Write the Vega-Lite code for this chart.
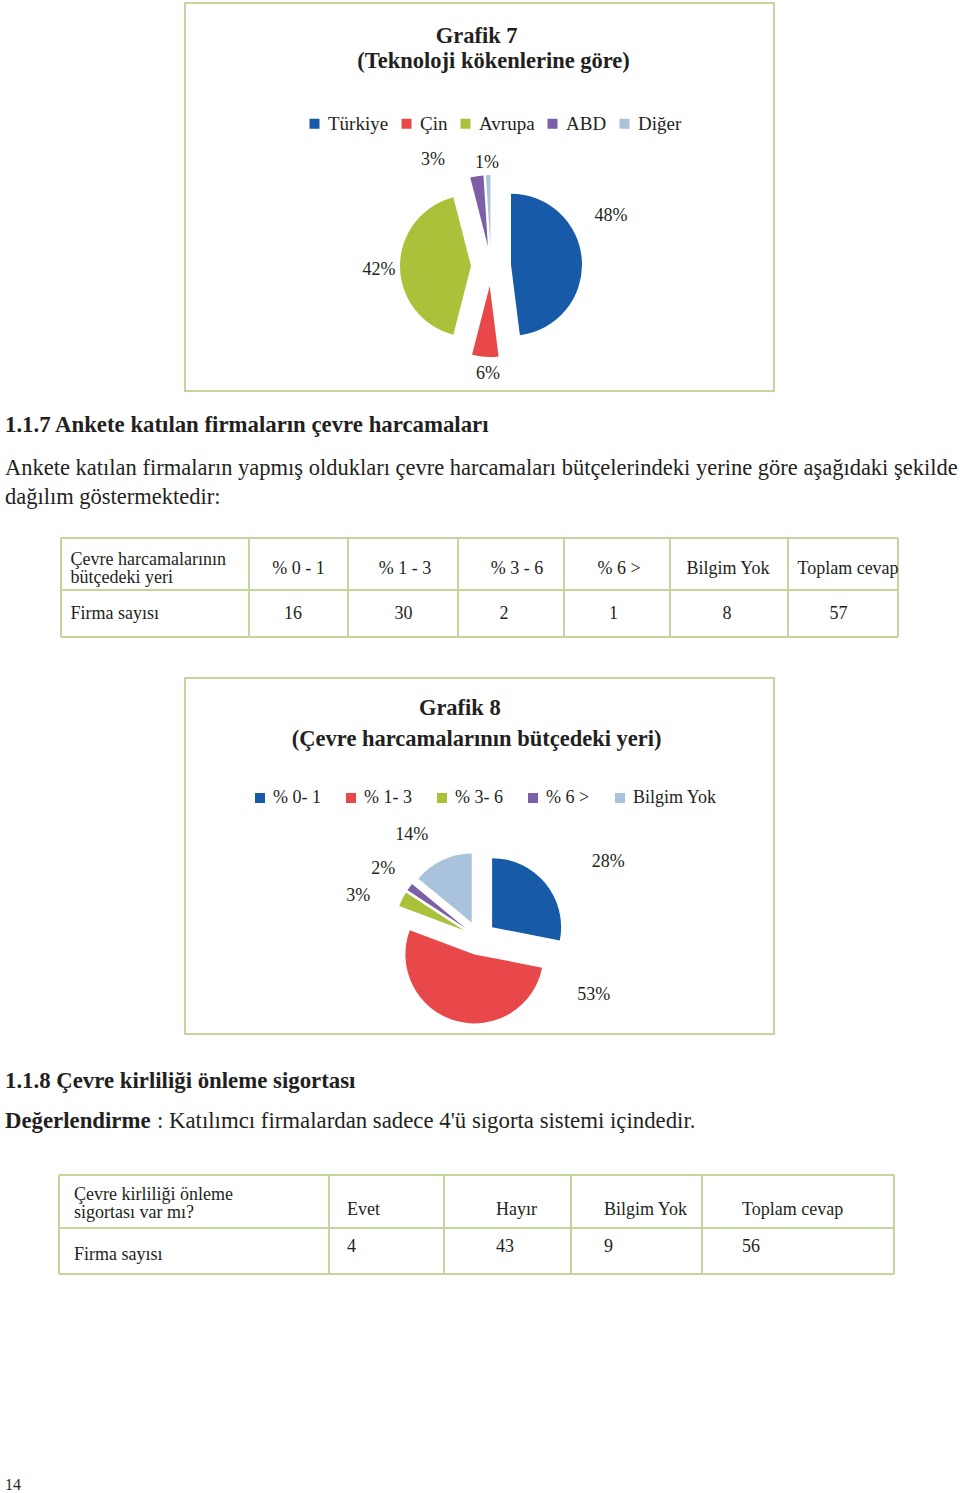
{
  "$schema": "https://vega.github.io/schema/vega-lite/v6.json",
  "padding": {"left": 5, "top": 2, "right": 0, "bottom": 0},
  "background": "white",
  "spacing": 0,
  "resolve": {"scale": {"color": "independent"}, "legend": {"color": "independent"}},
  "config": {
    "view": {"stroke": null},
    "font": "Liberation Serif",
    "text": {"font": "Liberation Serif", "color": "#231f20"},
    "title": {"font": "Liberation Serif", "fontSize": 22.5, "fontWeight": "bold", "color": "#231f20", "anchor": "middle", "frame": "group"},
    "legend": {"labelFont": "Liberation Serif", "labelColor": "#231f20", "padding": 0, "symbolType": "square", "symbolSize": 100, "symbolStrokeWidth": 0, "labelOffset": 4}
  },
  "datasets": {
    "g7": [
      {"k": "Türkiye", "v": 48, "lab": "48%"},
      {"k": "Çin", "v": 6, "lab": "6%"},
      {"k": "Avrupa", "v": 42, "lab": "42%"},
      {"k": "ABD", "v": 3, "lab": "3%"},
      {"k": "Diğer", "v": 1, "lab": "1%"}
    ],
    "g8": [
      {"k": "% 0- 1", "v": 16, "lab": "28%"},
      {"k": "% 1- 3", "v": 30, "lab": "53%"},
      {"k": "% 3- 6", "v": 2, "lab": "3%"},
      {"k": "% 6 >", "v": 1, "lab": "2%"},
      {"k": "Bilgim Yok", "v": 8, "lab": "14%"}
    ],
    "t1": [
      {"r": 0, "c": 0, "t": "Çevre harcamalarının\nbütçedeki yeri"},
      {"r": 0, "c": 1, "t": "% 0 - 1"},
      {"r": 0, "c": 2, "t": "% 1 - 3"},
      {"r": 0, "c": 3, "t": "% 3 - 6"},
      {"r": 0, "c": 4, "t": "% 6 >"},
      {"r": 0, "c": 5, "t": "Bilgim Yok"},
      {"r": 0, "c": 6, "t": "Toplam cevap"},
      {"r": 1, "c": 0, "t": "Firma sayısı"},
      {"r": 1, "c": 1, "t": "16"},
      {"r": 1, "c": 2, "t": "30"},
      {"r": 1, "c": 3, "t": "2"},
      {"r": 1, "c": 4, "t": "1"},
      {"r": 1, "c": 5, "t": "8"},
      {"r": 1, "c": 6, "t": "57"}
    ],
    "t2": [
      {"r": 0, "c": 0, "t": "Çevre kirliliği önleme\nsigortası var mı?"},
      {"r": 0, "c": 1, "t": "Evet"},
      {"r": 0, "c": 2, "t": "Hayır"},
      {"r": 0, "c": 3, "t": "Bilgim Yok"},
      {"r": 0, "c": 4, "t": "Toplam cevap"},
      {"r": 1, "c": 0, "t": "Firma sayısı"},
      {"r": 1, "c": 1, "t": "4"},
      {"r": 1, "c": 2, "t": "43"},
      {"r": 1, "c": 3, "t": "9"},
      {"r": 1, "c": 4, "t": "56"}
    ]
  },
  "vconcat": [
    {
      "spacing": 0,
      "resolve": {"scale": {"color": "independent"}, "legend": {"color": "independent"}},
      "hconcat": [
        {"width": 179, "height": 1, "data": {"values": []}, "mark": "point"},
        {
          "width": 589, "height": 388,
          "view": {"stroke": "#c3d69b", "strokeWidth": 2},
          "title": {"text": ["Grafik 7\u00a0\u200b", "\u200b\u00a0\u00a0\u00a0\u00a0\u00a0(Teknoloji kökenlerine göre)"], "offset": -69, "lineHeight": 25},
          "data": {"name": "g7"},
          "transform": [{"stack": "v", "groupby": [], "as": ["t0", "t1"]}],
          "layer": [
            {"transform": [{"filter": "datum.k === 'Türkiye'"}], "mark": {"type": "arc", "radius": 71, "xOffset": 31.5, "yOffset": 67.7},
             "encoding": {"theta": {"field": "t0", "type": "quantitative", "scale": {"domain": [0, 100], "zero": false, "nice": false}}, "theta2": {"field": "t1"},
               "color": {"field": "k", "type": "nominal", "scale": {"domain": ["Türkiye", "Çin", "Avrupa", "ABD", "Diğer"], "range": ["#175ba8", "#e84849", "#a9c23a", "#7d5fa8", "#aac3dc"]}, "legend": {"title": null, "orient": "none", "legendX": 120, "legendY": 111, "direction": "horizontal", "labelFontSize": 19, "columnPadding": 8}}}},
            {"transform": [{"filter": "datum.k === 'Çin'"}], "mark": {"type": "arc", "radius": 71, "xOffset": 10.2, "yOffset": 89},
             "encoding": {"theta": {"field": "t0", "type": "quantitative", "scale": {"domain": [0, 100], "zero": false, "nice": false}}, "theta2": {"field": "t1"},
               "color": {"field": "k", "type": "nominal", "scale": {"domain": ["Türkiye", "Çin", "Avrupa", "ABD", "Diğer"], "range": ["#175ba8", "#e84849", "#a9c23a", "#7d5fa8", "#aac3dc"]}, "legend": {"title": null, "orient": "none", "legendX": 120, "legendY": 111, "direction": "horizontal", "labelFontSize": 19, "columnPadding": 8}}}},
            {"transform": [{"filter": "datum.k === 'Avrupa'"}], "mark": {"type": "arc", "radius": 71, "xOffset": -8.5, "yOffset": 69},
             "encoding": {"theta": {"field": "t0", "type": "quantitative", "scale": {"domain": [0, 100], "zero": false, "nice": false}}, "theta2": {"field": "t1"},
               "color": {"field": "k", "type": "nominal", "scale": {"domain": ["Türkiye", "Çin", "Avrupa", "ABD", "Diğer"], "range": ["#175ba8", "#e84849", "#a9c23a", "#7d5fa8", "#aac3dc"]}, "legend": {"title": null, "orient": "none", "legendX": 120, "legendY": 111, "direction": "horizontal", "labelFontSize": 19, "columnPadding": 8}}}},
            {"transform": [{"filter": "datum.k === 'ABD'"}], "mark": {"type": "arc", "radius": 71, "xOffset": 8.4, "yOffset": 49.3},
             "encoding": {"theta": {"field": "t0", "type": "quantitative", "scale": {"domain": [0, 100], "zero": false, "nice": false}}, "theta2": {"field": "t1"},
               "color": {"field": "k", "type": "nominal", "scale": {"domain": ["Türkiye", "Çin", "Avrupa", "ABD", "Diğer"], "range": ["#175ba8", "#e84849", "#a9c23a", "#7d5fa8", "#aac3dc"]}, "legend": {"title": null, "orient": "none", "legendX": 120, "legendY": 111, "direction": "horizontal", "labelFontSize": 19, "columnPadding": 8}}}},
            {"transform": [{"filter": "datum.k === 'Diğer'"}], "mark": {"type": "arc", "radius": 71, "xOffset": 10.9, "yOffset": 49},
             "encoding": {"theta": {"field": "t0", "type": "quantitative", "scale": {"domain": [0, 100], "zero": false, "nice": false}}, "theta2": {"field": "t1"},
               "color": {"field": "k", "type": "nominal", "scale": {"domain": ["Türkiye", "Çin", "Avrupa", "ABD", "Diğer"], "range": ["#175ba8", "#e84849", "#a9c23a", "#7d5fa8", "#aac3dc"]}, "legend": {"title": null, "orient": "none", "legendX": 120, "legendY": 111, "direction": "horizontal", "labelFontSize": 19, "columnPadding": 8}}}},
            {"mark": {"type": "text", "fontSize": 18, "align": "center", "baseline": "middle", "xOffset": 11.5, "yOffset": 69},
             "encoding": {"text": {"field": "lab"},
               "theta": {"field": "v", "type": "quantitative", "scale": {"domain": [1, 3, 6, 42, 48], "range": [6.245, 5.784, 3.170, 4.678, 1.176], "zero": false, "nice": false}},
               "radius": {"field": "v", "type": "quantitative", "scale": {"type": "linear", "domain": [1, 3, 6, 42, 48], "range": [103, 121, 108, 112, 130], "zero": false, "nice": false}}}}
          ],
          "resolve": {"scale": {"theta": "independent", "radius": "independent"}}
        }
      ]
    },
    {
      "width": 955, "height": 61,
      "data": {"values": [{"t": "1.1.7 Ankete katılan firmaların çevre harcamaları"}]},
      "mark": {"type": "text", "align": "left", "baseline": "middle", "fontSize": 22.8, "fontWeight": "bold", "dy": 2.5},
      "encoding": {"text": {"field": "t"}, "x": {"value": 0}}
    },
    {
      "width": 955, "height": 58,
      "data": {"values": [
        {"line": 1, "t": "Ankete katılan firmaların yapmış oldukları çevre harcamaları bütçelerindeki yerine göre aşağıdaki şekilde"},
        {"line": 2, "t": "dağılım göstermektedir:"}
      ]},
      "mark": {"type": "text", "align": "left", "baseline": "middle", "fontSize": 22.5},
      "encoding": {"text": {"field": "t"}, "x": {"value": 0},
        "y": {"field": "line", "type": "ordinal", "axis": null, "scale": {"paddingInner": 0, "paddingOuter": 0}}}
    },
    {"width": 1, "height": 26, "data": {"values": []}, "mark": "point"},
    {
      "spacing": 0,
      "hconcat": [
        {"width": 55, "height": 1, "data": {"values": []}, "mark": "point"},
        {
          "width": 837, "height": 99,
          "layer": [
            {"data": {"values": [{"e": 0}, {"e": 1}, {"e": 2}, {"e": 3}, {"e": 4}, {"e": 5}, {"e": 6}, {"e": 7}]},
             "mark": {"type": "rule", "color": "#c3d69b", "strokeWidth": 2},
             "encoding": {"x": {"field": "e", "type": "quantitative", "axis": null, "scale": {"domain": [0, 1, 2, 3, 4, 5, 6, 7], "range": [0, 188, 287, 397, 503, 609, 727, 837], "zero": false, "nice": false}}}},
            {"data": {"values": [{"e": 0}, {"e": 1}, {"e": 2}]},
             "mark": {"type": "rule", "color": "#c3d69b", "strokeWidth": 2},
             "encoding": {"y": {"field": "e", "type": "quantitative", "axis": null, "scale": {"domain": [0, 1, 2], "range": [0, 52, 99], "zero": false, "nice": false}}}},
            {"data": {"name": "t1"}, "transform": [{"filter": "datum.c === 0"}],
             "mark": {"type": "text", "fontSize": 18, "align": "left", "baseline": "middle", "lineBreak": "\n", "lineHeight": 18},
             "encoding": {"text": {"field": "t"},
               "x": {"field": "c", "type": "quantitative", "axis": null, "scale": {"domain": [0, 1], "range": [9.5, 10.5], "zero": false, "nice": false}},
               "y": {"field": "r", "type": "quantitative", "axis": null, "scale": {"domain": [0, 1], "range": [22, 76], "zero": false, "nice": false}}}},
            {"data": {"name": "t1"}, "transform": [{"filter": "datum.c > 0 && datum.r === 0"}],
             "mark": {"type": "text", "fontSize": 18, "align": "center", "baseline": "middle"},
             "encoding": {"text": {"field": "t"},
               "x": {"field": "c", "type": "quantitative", "axis": null, "scale": {"domain": [1, 2, 3, 4, 5, 6], "range": [237.5, 344, 456, 558, 667, 787], "zero": false, "nice": false}},
               "y": {"field": "r", "type": "quantitative", "axis": null, "scale": {"domain": [0, 1], "range": [31, 76], "zero": false, "nice": false}}}},
            {"data": {"name": "t1"}, "transform": [{"filter": "datum.c > 0 && datum.r === 1"}],
             "mark": {"type": "text", "fontSize": 18, "align": "center", "baseline": "middle"},
             "encoding": {"text": {"field": "t"},
               "x": {"field": "c", "type": "quantitative", "axis": null, "scale": {"domain": [1, 2, 3, 4, 5, 6], "range": [232, 342.5, 443, 552.5, 666, 777.5], "zero": false, "nice": false}},
               "y": {"field": "r", "type": "quantitative", "axis": null, "scale": {"domain": [0, 1], "range": [31, 76], "zero": false, "nice": false}}}}
          ],
          "resolve": {"scale": {"x": "independent", "y": "independent"}}
        }
      ]
    },
    {"width": 1, "height": 39, "data": {"values": []}, "mark": "point"},
    {
      "spacing": 0,
      "resolve": {"scale": {"color": "independent"}, "legend": {"color": "independent"}},
      "hconcat": [
        {"width": 179, "height": 1, "data": {"values": []}, "mark": "point"},
        {
          "width": 589, "height": 356,
          "view": {"stroke": "#c3d69b", "strokeWidth": 2},
          "title": {"text": ["Grafik 8\u00a0\u00a0\u00a0\u00a0\u00a0\u00a0\u00a0\u200b", "(Çevre harcamalarının bütçedeki yeri)\u00a0\u200b"], "offset": -72, "lineHeight": 31},
          "data": {"name": "g8"},
          "transform": [{"stack": "v", "groupby": [], "as": ["t0", "t1"]}],
          "layer": [
            {"transform": [{"filter": "datum.k === '% 0- 1'"}], "mark": {"type": "arc", "radius": 69, "xOffset": 12.6, "yOffset": 71.2},
             "encoding": {"theta": {"field": "t0", "type": "quantitative", "scale": {"domain": [0, 57], "zero": false, "nice": false}}, "theta2": {"field": "t1"},
               "color": {"field": "k", "type": "nominal", "scale": {"domain": ["% 0- 1", "% 1- 3", "% 3- 6", "% 6 >", "Bilgim Yok"], "range": ["#175ba8", "#e84849", "#a9c23a", "#7d5fa8", "#aac3dc"]}, "legend": {"title": null, "orient": "none", "legendX": 66, "legendY": 111, "direction": "horizontal", "labelFontSize": 18, "columnPadding": 21}}}},
            {"transform": [{"filter": "datum.k === '% 1- 3'"}], "mark": {"type": "arc", "radius": 69, "xOffset": -5.1, "yOffset": 98.4},
             "encoding": {"theta": {"field": "t0", "type": "quantitative", "scale": {"domain": [0, 57], "zero": false, "nice": false}}, "theta2": {"field": "t1"},
               "color": {"field": "k", "type": "nominal", "scale": {"domain": ["% 0- 1", "% 1- 3", "% 3- 6", "% 6 >", "Bilgim Yok"], "range": ["#175ba8", "#e84849", "#a9c23a", "#7d5fa8", "#aac3dc"]}, "legend": {"title": null, "orient": "none", "legendX": 66, "legendY": 111, "direction": "horizontal", "labelFontSize": 18, "columnPadding": 21}}}},
            {"transform": [{"filter": "datum.k === '% 3- 6'"}], "mark": {"type": "arc", "radius": 69, "xOffset": -15.7, "yOffset": 74.3},
             "encoding": {"theta": {"field": "t0", "type": "quantitative", "scale": {"domain": [0, 57], "zero": false, "nice": false}}, "theta2": {"field": "t1"},
               "color": {"field": "k", "type": "nominal", "scale": {"domain": ["% 0- 1", "% 1- 3", "% 3- 6", "% 6 >", "Bilgim Yok"], "range": ["#175ba8", "#e84849", "#a9c23a", "#7d5fa8", "#aac3dc"]}, "legend": {"title": null, "orient": "none", "legendX": 66, "legendY": 111, "direction": "horizontal", "labelFontSize": 18, "columnPadding": 21}}}},
            {"transform": [{"filter": "datum.k === '% 6 >'"}], "mark": {"type": "arc", "radius": 69, "xOffset": -14.2, "yOffset": 71.9},
             "encoding": {"theta": {"field": "t0", "type": "quantitative", "scale": {"domain": [0, 57], "zero": false, "nice": false}}, "theta2": {"field": "t1"},
               "color": {"field": "k", "type": "nominal", "scale": {"domain": ["% 0- 1", "% 1- 3", "% 3- 6", "% 6 >", "Bilgim Yok"], "range": ["#175ba8", "#e84849", "#a9c23a", "#7d5fa8", "#aac3dc"]}, "legend": {"title": null, "orient": "none", "legendX": 66, "legendY": 111, "direction": "horizontal", "labelFontSize": 18, "columnPadding": 21}}}},
            {"transform": [{"filter": "datum.k === 'Bilgim Yok'"}], "mark": {"type": "arc", "radius": 69, "xOffset": -7.8, "yOffset": 66.6},
             "encoding": {"theta": {"field": "t0", "type": "quantitative", "scale": {"domain": [0, 57], "zero": false, "nice": false}}, "theta2": {"field": "t1"},
               "color": {"field": "k", "type": "nominal", "scale": {"domain": ["% 0- 1", "% 1- 3", "% 3- 6", "% 6 >", "Bilgim Yok"], "range": ["#175ba8", "#e84849", "#a9c23a", "#7d5fa8", "#aac3dc"]}, "legend": {"title": null, "orient": "none", "legendX": 66, "legendY": 111, "direction": "horizontal", "labelFontSize": 18, "columnPadding": 21}}}},
            {"mark": {"type": "text", "fontSize": 18, "align": "center", "baseline": "middle", "xOffset": -0.5, "yOffset": 82},
             "encoding": {"text": {"field": "lab"},
               "theta": {"field": "v", "type": "quantitative", "scale": {"domain": [1, 2, 8, 16, 30], "range": [5.336, 5.048, 5.705, 1.040, 2.032], "zero": false, "nice": false}},
               "radius": {"field": "v", "type": "quantitative", "scale": {"type": "linear", "domain": [1, 2, 8, 16, 30], "range": [118, 128, 123, 150, 128], "zero": false, "nice": false}}}}
          ],
          "resolve": {"scale": {"theta": "independent", "radius": "independent"}}
        }
      ]
    },
    {"width": 1, "height": 26, "data": {"values": []}, "mark": "point"},
    {
      "width": 955, "height": 80,
      "data": {"values": [
        {"line": 1, "part": "b", "t": "1.1.8 Çevre kirliliği önleme sigortası"},
        {"line": 2, "part": "b", "t": "Değerlendirme"},
        {"line": 2, "part": "n", "t": ": Katılımcı firmalardan sadece 4'ü sigorta sistemi içindedir."}
      ]},
      "layer": [
        {"transform": [{"filter": "datum.part === 'b'"}],
         "mark": {"type": "text", "align": "left", "baseline": "middle", "fontSize": 22.8, "fontWeight": "bold"},
         "encoding": {"text": {"field": "t"}, "x": {"value": 0},
           "y": {"field": "line", "type": "ordinal", "axis": null, "scale": {"domain": [1, 2], "paddingInner": 0, "paddingOuter": 0}}}},
        {"transform": [{"filter": "datum.part === 'n'"}],
         "mark": {"type": "text", "align": "left", "baseline": "middle", "fontSize": 22.8, "dx": 152},
         "encoding": {"text": {"field": "t"}, "x": {"value": 0},
           "y": {"field": "line", "type": "ordinal", "axis": null, "scale": {"domain": [1, 2], "paddingInner": 0, "paddingOuter": 0}}}}
      ]
    },
    {"width": 1, "height": 33, "data": {"values": []}, "mark": "point"},
    {
      "spacing": 0,
      "hconcat": [
        {"width": 53, "height": 1, "data": {"values": []}, "mark": "point"},
        {
          "width": 835, "height": 99,
          "layer": [
            {"data": {"values": [{"e": 0}, {"e": 1}, {"e": 2}, {"e": 3}, {"e": 4}, {"e": 5}]},
             "mark": {"type": "rule", "color": "#c3d69b", "strokeWidth": 2},
             "encoding": {"x": {"field": "e", "type": "quantitative", "axis": null, "scale": {"domain": [0, 1, 2, 3, 4, 5], "range": [0, 270, 385, 512, 643, 835], "zero": false, "nice": false}}}},
            {"data": {"values": [{"e": 0}, {"e": 1}, {"e": 2}]},
             "mark": {"type": "rule", "color": "#c3d69b", "strokeWidth": 2},
             "encoding": {"y": {"field": "e", "type": "quantitative", "axis": null, "scale": {"domain": [0, 1, 2], "range": [0, 53, 99], "zero": false, "nice": false}}}},
            {"data": {"name": "t2"}, "transform": [{"filter": "datum.c === 0"}],
             "mark": {"type": "text", "fontSize": 18, "align": "left", "baseline": "middle", "lineBreak": "\n", "lineHeight": 18},
             "encoding": {"text": {"field": "t"},
               "x": {"field": "c", "type": "quantitative", "axis": null, "scale": {"domain": [0, 1], "range": [15, 16], "zero": false, "nice": false}},
               "y": {"field": "r", "type": "quantitative", "axis": null, "scale": {"domain": [0, 1], "range": [20, 80], "zero": false, "nice": false}}}},
            {"data": {"name": "t2"}, "transform": [{"filter": "datum.c > 0"}],
             "mark": {"type": "text", "fontSize": 18, "align": "left", "baseline": "middle"},
             "encoding": {"text": {"field": "t"},
               "x": {"field": "c", "type": "quantitative", "axis": null, "scale": {"domain": [1, 2, 3, 4], "range": [288, 437, 545, 683], "zero": false, "nice": false}},
               "y": {"field": "r", "type": "quantitative", "axis": null, "scale": {"domain": [0, 1], "range": [35, 72], "zero": false, "nice": false}}}}
          ],
          "resolve": {"scale": {"x": "independent", "y": "independent"}}
        }
      ]
    },
    {"width": 1, "height": 202, "data": {"values": []}, "mark": "point"},
    {
      "width": 100, "height": 16,
      "data": {"values": [{"t": "14"}]},
      "mark": {"type": "text", "align": "left", "baseline": "middle", "fontSize": 16},
      "encoding": {"text": {"field": "t"}, "x": {"value": 0}}
    }
  ]
}
